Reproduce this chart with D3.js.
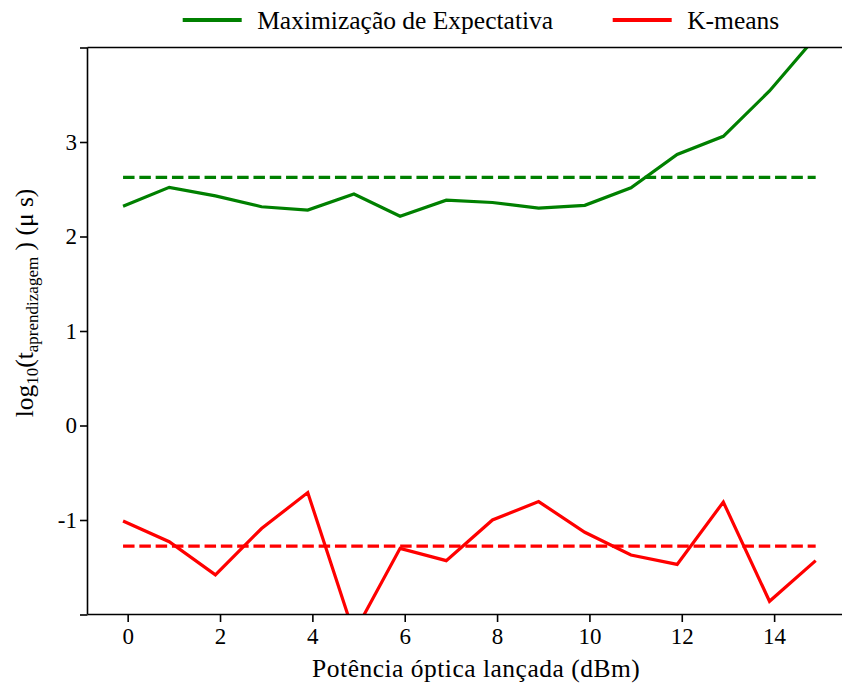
<!DOCTYPE html>
<html>
<head>
<meta charset="utf-8">
<script src="https://cdn.jsdelivr.net/npm/d3@7"></script>
<style>
  html, body { margin: 0; padding: 0; background: #fff; }
  svg { display: block; }
  svg text { font-family: "Liberation Serif", "Times New Roman", serif !important; fill: #000; }
</style>
</head>
<body>
<svg id="chart" width="842" height="684"></svg>
<script>
// ---- data ----
const powers = [-0.1, 0.9, 1.9, 2.9, 3.9, 4.9, 5.9, 6.9, 7.9, 8.9, 9.9, 10.9, 11.9, 12.9, 13.9, 14.9];
const emValues = [2.32, 2.52, 2.43, 2.315, 2.28, 2.45, 2.215, 2.385, 2.36, 2.30, 2.33, 2.515, 2.868, 3.06, 3.54, 4.11];
const kmValues = [-1.01, -1.23, -1.58, -1.09, -0.71, -2.2, -1.30, -1.43, -1.0, -0.805, -1.13, -1.37, -1.47, -0.81, -1.86, -1.43];
const emMean = [2.625];
const kmMean = [-1.277];
const seriesNames = ["Maximização de Expectativa", "K-means"];
const seriesColors = ["#008000", "#ff0000"];
const xTicks = [0, 2, 4, 6, 8, 10, 12, 14];
const yTicks = [-2, -1, 0, 1, 2, 3, 4];
const yTickLabels = ["", "-1", "0", "1", "2", "3", ""];

const FONT = '"Liberation Serif", "Times New Roman", serif';
const svg = d3.select("#chart");
const mLeft = 87.5, mRight = 848, mTop = 47.5, mBottom = 614.5;

const x = d3.scaleLinear().domain([-0.87, 15.6]).range([mLeft, mRight]);
const y = d3.scaleLinear().domain([-2, 4]).range([mBottom, mTop]);

svg.append("defs").append("clipPath").attr("id", "plotclip")
  .append("rect").attr("x", mLeft).attr("y", mTop).attr("width", mRight - mLeft).attr("height", mBottom - mTop);

const g = svg.append("g").attr("clip-path", "url(#plotclip)");

const line = d3.line().x((d, i) => x(powers[i])).y(d => y(d));

// mean dashed lines
[[emMean[0], seriesColors[0]], [kmMean[0], seriesColors[1]]].forEach(([m, c]) => {
  g.append("line")
    .attr("x1", x(powers[0])).attr("x2", x(powers[powers.length - 1]))
    .attr("y1", y(m)).attr("y2", y(m))
    .attr("stroke", c).attr("stroke-width", 3.2)
    .attr("stroke-dasharray", "11.5,4.8");
});

[emValues, kmValues].forEach((vals, k) => {
  g.append("path").datum(vals)
    .attr("d", line)
    .attr("fill", "none")
    .attr("stroke", seriesColors[k])
    .attr("stroke-width", 3.2)
    .attr("stroke-linejoin", "miter");
});

// axes
const xAxis = d3.axisBottom(x).tickValues(xTicks).tickSize(7.5).tickPadding(6).tickFormat(d3.format("d"));
const gx = svg.append("g").attr("transform", `translate(0,${mBottom})`).call(xAxis)
  .attr("font-family", null).attr("font-size", null);
gx.select(".domain").remove();
gx.selectAll(".tick line").attr("stroke", "#000").attr("stroke-width", 1.6);
gx.selectAll(".tick text").style("font-family", FONT).style("font-size", "23px");

const yAxis = d3.axisLeft(y).tickValues(yTicks).tickSize(7.5).tickPadding(3)
  .tickFormat((d, i) => yTickLabels[i]);
const gy = svg.append("g").attr("transform", `translate(${mLeft},0)`).call(yAxis)
  .attr("font-family", null).attr("font-size", null);
gy.select(".domain").remove();
gy.selectAll(".tick line").attr("stroke", "#000").attr("stroke-width", 1.6);
gy.selectAll(".tick text").style("font-family", FONT).style("font-size", "23px");

// spines
svg.append("line").attr("x1", mLeft).attr("x2", mLeft).attr("y1", mTop).attr("y2", mBottom)
  .attr("stroke", "#000").attr("stroke-width", 1.6);
svg.append("line").attr("x1", mLeft).attr("x2", 842).attr("y1", mBottom).attr("y2", mBottom)
  .attr("stroke", "#000").attr("stroke-width", 1.6);
svg.append("line").attr("x1", mLeft).attr("x2", 842).attr("y1", mTop).attr("y2", mTop)
  .attr("stroke", "#000").attr("stroke-width", 1.6);

// x label
svg.append("text").attr("x", (311.7 + 640.7) / 2).attr("y", 677)
  .attr("text-anchor", "middle")
  .style("font-size", "25.5px").style("letter-spacing", "0.5px")
  .text("Potência óptica lançada (dBm)");

// y label
const yl = svg.append("text")
  .attr("transform", "translate(33,303) rotate(-90)")
  .attr("text-anchor", "middle").style("font-size", "25.5px");
yl.append("tspan").text("log");
yl.append("tspan").style("font-size", "17px").attr("dy", 5).text("10");
yl.append("tspan").attr("dy", -5).text("(t");
yl.append("tspan").style("font-size", "17px").attr("dy", 5).text("aprendizagem");
yl.append("tspan").attr("dy", -5).text(" ) (μ s)");

// legend
const legendX = [182.7, 612.7];
seriesNames.forEach((name, k) => {
  svg.append("line")
    .attr("x1", legendX[k]).attr("x2", legendX[k] + 59)
    .attr("y1", 20).attr("y2", 20)
    .attr("stroke", seriesColors[k]).attr("stroke-width", 4);
  svg.append("text")
    .attr("x", legendX[k] + 74.5).attr("y", 29)
    .style("font-size", "25.5px")
    .text(name);
});
</script>
</body>
</html>
